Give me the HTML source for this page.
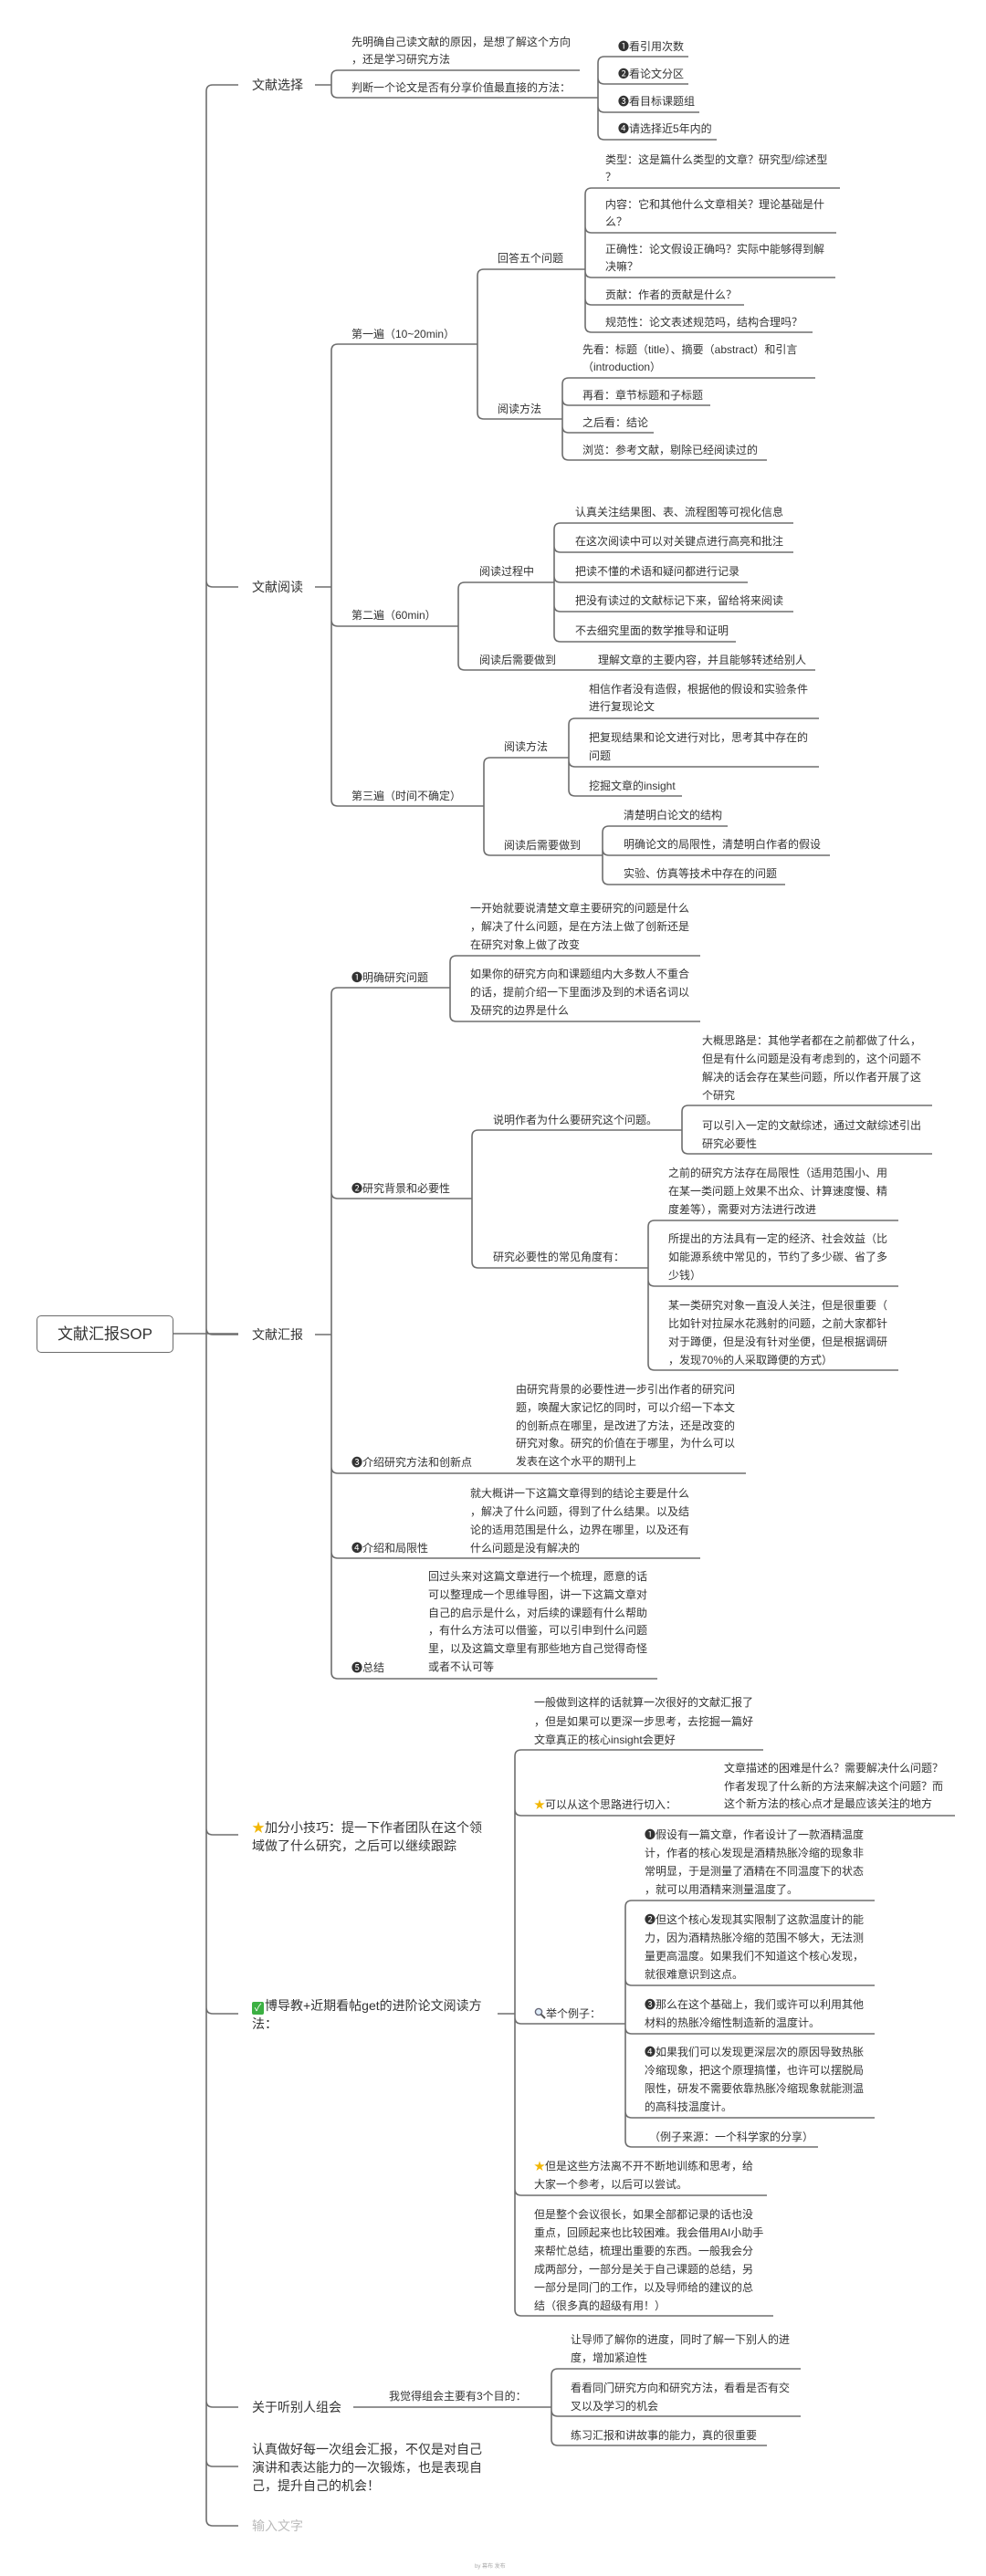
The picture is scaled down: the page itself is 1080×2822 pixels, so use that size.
<!DOCTYPE html>
<html><head><meta charset="utf-8">
<style>
html,body{margin:0;padding:0;background:#fff;}
body{width:1080px;height:2822px;position:relative;overflow:hidden;font-family:"Liberation Sans","Noto Sans CJK SC",sans-serif;color:#333;}
.t{position:absolute;font-size:12px;line-height:20px;white-space:nowrap;}
.l1{position:absolute;font-size:14px;line-height:20px;white-space:nowrap;color:#333;}
.root{position:absolute;left:40px;top:1441px;width:148px;height:39px;border:1.5px solid #6b6b6b;border-radius:5px;font-size:17px;line-height:39px;text-align:center;color:#333;background:#fff;}
.star{color:#f2b705;}
.ok{display:inline-block;width:13px;height:14px;background:#3cb043;color:#fff;font-size:11px;line-height:14px;text-align:center;border-radius:2px;vertical-align:-1px;margin-right:1px;}
svg{position:absolute;left:0;top:0;}
</style></head><body>
<svg id="lines" width="1080" height="2822" viewBox="0 0 1080 2822"></svg>

<div class="root">文献汇报SOP</div>

<!-- level 1 -->
<div class="l1" style="left:276px;top:83px">文献选择</div>
<div class="l1" style="left:276px;top:633px">文献阅读</div>
<div class="l1" style="left:276px;top:1452px">文献汇报</div>
<div class="l1" style="left:276px;top:1992px"><span class="star">★</span>加分小技巧：提一下作者团队在这个领<br>域做了什么研究，之后可以继续跟踪</div>
<div class="l1" style="left:276px;top:2187px"><span class="ok">✓</span>博导教+近期看帖get的进阶论文阅读方<br>法：</div>
<div class="l1" style="left:276px;top:2627px">关于听别人组会</div>
<div class="l1" style="left:276px;top:2673px">认真做好每一次组会汇报，不仅是对自己<br>演讲和表达能力的一次锻炼，也是表现自<br>己，提升自己的机会！</div>
<div class="l1" style="left:276px;top:2757px;color:#bbb">输入文字</div>

<!-- 文献选择 -->
<div class="t" style="left:385px;top:37px;line-height:19px">先明确自己读文献的原因，是想了解这个方向<br>，还是学习研究方法</div>
<div class="t" style="left:385px;top:86px">判断一个论文是否有分享价值最直接的方法：</div>
<div class="t" style="left:677px;top:41px">❶看引用次数</div>
<div class="t" style="left:677px;top:71px">❷看论文分区</div>
<div class="t" style="left:677px;top:101px">❸看目标课题组</div>
<div class="t" style="left:677px;top:131px">❹请选择近5年内的</div>

<!-- 文献阅读 -->
<div class="t" style="left:385px;top:356px">第一遍（10~20min）</div>
<div class="t" style="left:545px;top:273px">回答五个问题</div>
<div class="t" style="left:663px;top:166px;line-height:19px">类型：这是篇什么类型的文章？研究型/综述型<br>？</div>
<div class="t" style="left:663px;top:215px;line-height:19px">内容：它和其他什么文章相关？理论基础是什<br>么？</div>
<div class="t" style="left:663px;top:264px;line-height:19px">正确性：论文假设正确吗？实际中能够得到解<br>决嘛？</div>
<div class="t" style="left:663px;top:313px">贡献：作者的贡献是什么？</div>
<div class="t" style="left:663px;top:343px">规范性：论文表述规范吗，结构合理吗？</div>
<div class="t" style="left:545px;top:438px">阅读方法</div>
<div class="t" style="left:638px;top:374px;line-height:19px">先看：标题（title）、摘要（abstract）和引言<br>（introduction）</div>
<div class="t" style="left:638px;top:423px">再看：章节标题和子标题</div>
<div class="t" style="left:638px;top:453px">之后看：结论</div>
<div class="t" style="left:638px;top:483px">浏览：参考文献，剔除已经阅读过的</div>

<div class="t" style="left:385px;top:664px">第二遍（60min）</div>
<div class="t" style="left:525px;top:616px">阅读过程中</div>
<div class="t" style="left:630px;top:551px">认真关注结果图、表、流程图等可视化信息</div>
<div class="t" style="left:630px;top:583px">在这次阅读中可以对关键点进行高亮和批注</div>
<div class="t" style="left:630px;top:616px">把读不懂的术语和疑问都进行记录</div>
<div class="t" style="left:630px;top:648px">把没有读过的文献标记下来，留给将来阅读</div>
<div class="t" style="left:630px;top:681px">不去细究里面的数学推导和证明</div>
<div class="t" style="left:525px;top:713px">阅读后需要做到</div>
<div class="t" style="left:655px;top:713px">理解文章的主要内容，并且能够转述给别人</div>

<div class="t" style="left:385px;top:862px">第三遍（时间不确定）</div>
<div class="t" style="left:552px;top:808px">阅读方法</div>
<div class="t" style="left:645px;top:746px;line-height:19px">相信作者没有造假，根据他的假设和实验条件<br>进行复现论文</div>
<div class="t" style="left:645px;top:798px;line-height:20px">把复现结果和论文进行对比，思考其中存在的<br>问题</div>
<div class="t" style="left:645px;top:851px">挖掘文章的insight</div>
<div class="t" style="left:552px;top:916px">阅读后需要做到</div>
<div class="t" style="left:683px;top:883px">清楚明白论文的结构</div>
<div class="t" style="left:683px;top:915px">明确论文的局限性，清楚明白作者的假设</div>
<div class="t" style="left:683px;top:947px">实验、仿真等技术中存在的问题</div>

<!-- 文献汇报 -->
<div class="t" style="left:385px;top:1061px">❶明确研究问题</div>
<div class="t" style="left:515px;top:985px">一开始就要说清楚文章主要研究的问题是什么<br>，解决了什么问题，是在方法上做了创新还是<br>在研究对象上做了改变</div>
<div class="t" style="left:515px;top:1057px">如果你的研究方向和课题组内大多数人不重合<br>的话，提前介绍一下里面涉及到的术语名词以<br>及研究的边界是什么</div>
<div class="t" style="left:385px;top:1292px">❷研究背景和必要性</div>
<div class="t" style="left:540px;top:1217px">说明作者为什么要研究这个问题。</div>
<div class="t" style="left:769px;top:1130px">大概思路是：其他学者都在之前都做了什么，<br>但是有什么问题是没有考虑到的，这个问题不<br>解决的话会存在某些问题，所以作者开展了这<br>个研究</div>
<div class="t" style="left:769px;top:1223px">可以引入一定的文献综述，通过文献综述引出<br>研究必要性</div>
<div class="t" style="left:540px;top:1367px">研究必要性的常见角度有：</div>
<div class="t" style="left:732px;top:1275px">之前的研究方法存在局限性（适用范围小、用<br>在某一类问题上效果不出众、计算速度慢、精<br>度差等），需要对方法进行改进</div>
<div class="t" style="left:732px;top:1347px">所提出的方法具有一定的经济、社会效益（比<br>如能源系统中常见的，节约了多少碳、省了多<br>少钱）</div>
<div class="t" style="left:732px;top:1420px">某一类研究对象一直没人关注，但是很重要（<br>比如针对拉屎水花溅射的问题，之前大家都针<br>对于蹲便，但是没有针对坐便，但是根据调研<br>，发现70%的人采取蹲便的方式）</div>
<div class="t" style="left:385px;top:1592px">❸介绍研究方法和创新点</div>
<div class="t" style="left:565px;top:1513px;line-height:19.8px">由研究背景的必要性进一步引出作者的研究问<br>题，唤醒大家记忆的同时，可以介绍一下本文<br>的创新点在哪里，是改进了方法，还是改变的<br>研究对象。研究的价值在于哪里，为什么可以<br>发表在这个水平的期刊上</div>
<div class="t" style="left:385px;top:1686px">❹介绍和局限性</div>
<div class="t" style="left:515px;top:1626px">就大概讲一下这篇文章得到的结论主要是什么<br>，解决了什么问题，得到了什么结果。以及结<br>论的适用范围是什么，边界在哪里，以及还有<br>什么问题是没有解决的</div>
<div class="t" style="left:385px;top:1817px">❺总结</div>
<div class="t" style="left:469px;top:1718px;line-height:19.8px">回过头来对这篇文章进行一个梳理，愿意的话<br>可以整理成一个思维导图，讲一下这篇文章对<br>自己的启示是什么，对后续的课题有什么帮助<br>，有什么方法可以借鉴，可以引申到什么问题<br>里，以及这篇文章里有那些地方自己觉得奇怪<br>或者不认可等</div>

<!-- 博导教 -->
<div class="t" style="left:585px;top:1855px;line-height:20.5px">一般做到这样的话就算一次很好的文献汇报了<br>，但是如果可以更深一步思考，去挖掘一篇好<br>文章真正的核心insight会更好</div>
<div class="t" style="left:585px;top:1967px"><span class="star">★</span>可以从这个思路进行切入：</div>
<div class="t" style="left:793px;top:1928px;line-height:19.5px">文章描述的困难是什么？需要解决什么问题？<br>作者发现了什么新的方法来解决这个问题？而<br>这个新方法的核心点才是最应该关注的地方</div>
<div class="t" style="left:585px;top:2196px"><svg width="13" height="13" viewBox="0 0 13 13" style="position:static;vertical-align:-2px"><circle cx="5" cy="5" r="3.6" fill="#dfeefa" stroke="#667" stroke-width="1.4"/><line x1="7.6" y1="7.6" x2="12" y2="12" stroke="#555" stroke-width="2"/></svg>举个例子：</div>
<div class="t" style="left:706px;top:2000px">❶假设有一篇文章，作者设计了一款酒精温度<br>计，作者的核心发现是酒精热胀冷缩的现象非<br>常明显，于是测量了酒精在不同温度下的状态<br>，就可以用酒精来测量温度了。</div>
<div class="t" style="left:706px;top:2093px">❷但这个核心发现其实限制了这款温度计的能<br>力，因为酒精热胀冷缩的范围不够大，无法测<br>量更高温度。如果我们不知道这个核心发现，<br>就很难意识到这点。</div>
<div class="t" style="left:706px;top:2186px">❸那么在这个基础上，我们或许可以利用其他<br>材料的热胀冷缩性制造新的温度计。</div>
<div class="t" style="left:706px;top:2238px">❹如果我们可以发现更深层次的原因导致热胀<br>冷缩现象，把这个原理搞懂，也许可以摆脱局<br>限性，研发不需要依靠热胀冷缩现象就能测温<br>的高科技温度计。</div>
<div class="t" style="left:711px;top:2331px">（例子来源：一个科学家的分享）</div>
<div class="t" style="left:585px;top:2363px"><span class="star">★</span>但是这些方法离不开不断地训练和思考，给<br>大家一个参考，以后可以尝试。</div>
<div class="t" style="left:585px;top:2416px">但是整个会议很长，如果全部都记录的话也没<br>重点，回顾起来也比较困难。我会借用AI小助手<br>来帮忙总结，梳理出重要的东西。一般我会分<br>成两部分，一部分是关于自己课题的总结，另<br>一部分是同门的工作，以及导师给的建议的总<br>结（很多真的超级有用！）</div>

<!-- 组会 -->
<div class="t" style="left:426px;top:2615px">我觉得组会主要有3个目的：</div>
<div class="t" style="left:625px;top:2554px;line-height:19.5px">让导师了解你的进度，同时了解一下别人的进<br>度，增加紧迫性</div>
<div class="t" style="left:625px;top:2606px">看看同门研究方向和研究方法，看看是否有交<br>叉以及学习的机会</div>
<div class="t" style="left:625px;top:2658px">练习汇报和讲故事的能力，真的很重要</div>

<div style="position:absolute;left:520px;top:2806px;font-size:6px;color:#aaa">by 幕布 发布</div>

<script>
(function(){
var s=document.getElementById('lines'),d='',r=7;
function h(x1,x2,y){d+='M'+x1+' '+y+'H'+x2;}
function B(X,k){
  var ys=k.map(function(a){return a[0]}),y1=Math.min.apply(null,ys),y2=Math.max.apply(null,ys);
  d+='M'+X+' '+(y1+r)+'V'+(y2-r);
  k.forEach(function(a){
    var y=a[0],xe=a[1];
    if(y===y1){d+='M'+X+' '+(y+r)+'Q'+X+' '+y+' '+(X+r)+' '+y+'H'+xe;}
    else{d+='M'+X+' '+(y-r)+'Q'+X+' '+y+' '+(X+r)+' '+y+'H'+xe;}
  });
}
// trunk
B(226,[[93,261],[643,261],[1462,261],[2010,261],[2206,261],[2637,261],[2702,261],[2767,261]]);
h(190,261,1461);
h(345,363,93);h(345,363,643);h(345,363,1462);h(545,564,2206);h(387,604,2637);
B(363,[[77,635],[107,655]]);
B(655,[[62,754],[92,754],[123,766],[153,785]]);
B(363,[[377,523],[686,502],[883,530]]);
B(523,[[295,641],[459,616]]);
B(641,[[206,920],[255,916],[304,915],[334,815],[364,890]]);
B(616,[[414,893],[444,778],[474,716],[504,840]]);
B(502,[[638,607],[734,893]]);
B(607,[[573,869],[605,869],[638,819],[670,869],[703,806]]);
B(530,[[830,623],[937,660]]);
B(623,[[787,897],[840,897],[872,747]]);
B(660,[[905,797],[937,909],[969,860]]);
B(363,[[1082,493],[1313,517],[1614,817],[1707,767],[1839,720]]);
B(493,[[1047,767],[1119,767]]);
B(517,[[1238,747],[1389,710]]);
B(747,[[1211,1021],[1264,1021]]);
B(710,[[1337,984],[1409,984],[1501,984]]);
B(564,[[1917,836],[1989,1046],[2217,685],[2405,840],[2537,847]]);
B(685,[[2082,958],[2175,958],[2228,958],[2320,958],[2352,896]]);
B(604,[[2595,877],[2647,877],[2679,840]]);
var p=document.createElementNS('http://www.w3.org/2000/svg','path');
p.setAttribute('d',d);p.setAttribute('fill','none');p.setAttribute('stroke','#6e6e6e');p.setAttribute('stroke-width','1.6');
s.appendChild(p);
})();
</script>
</body></html>
